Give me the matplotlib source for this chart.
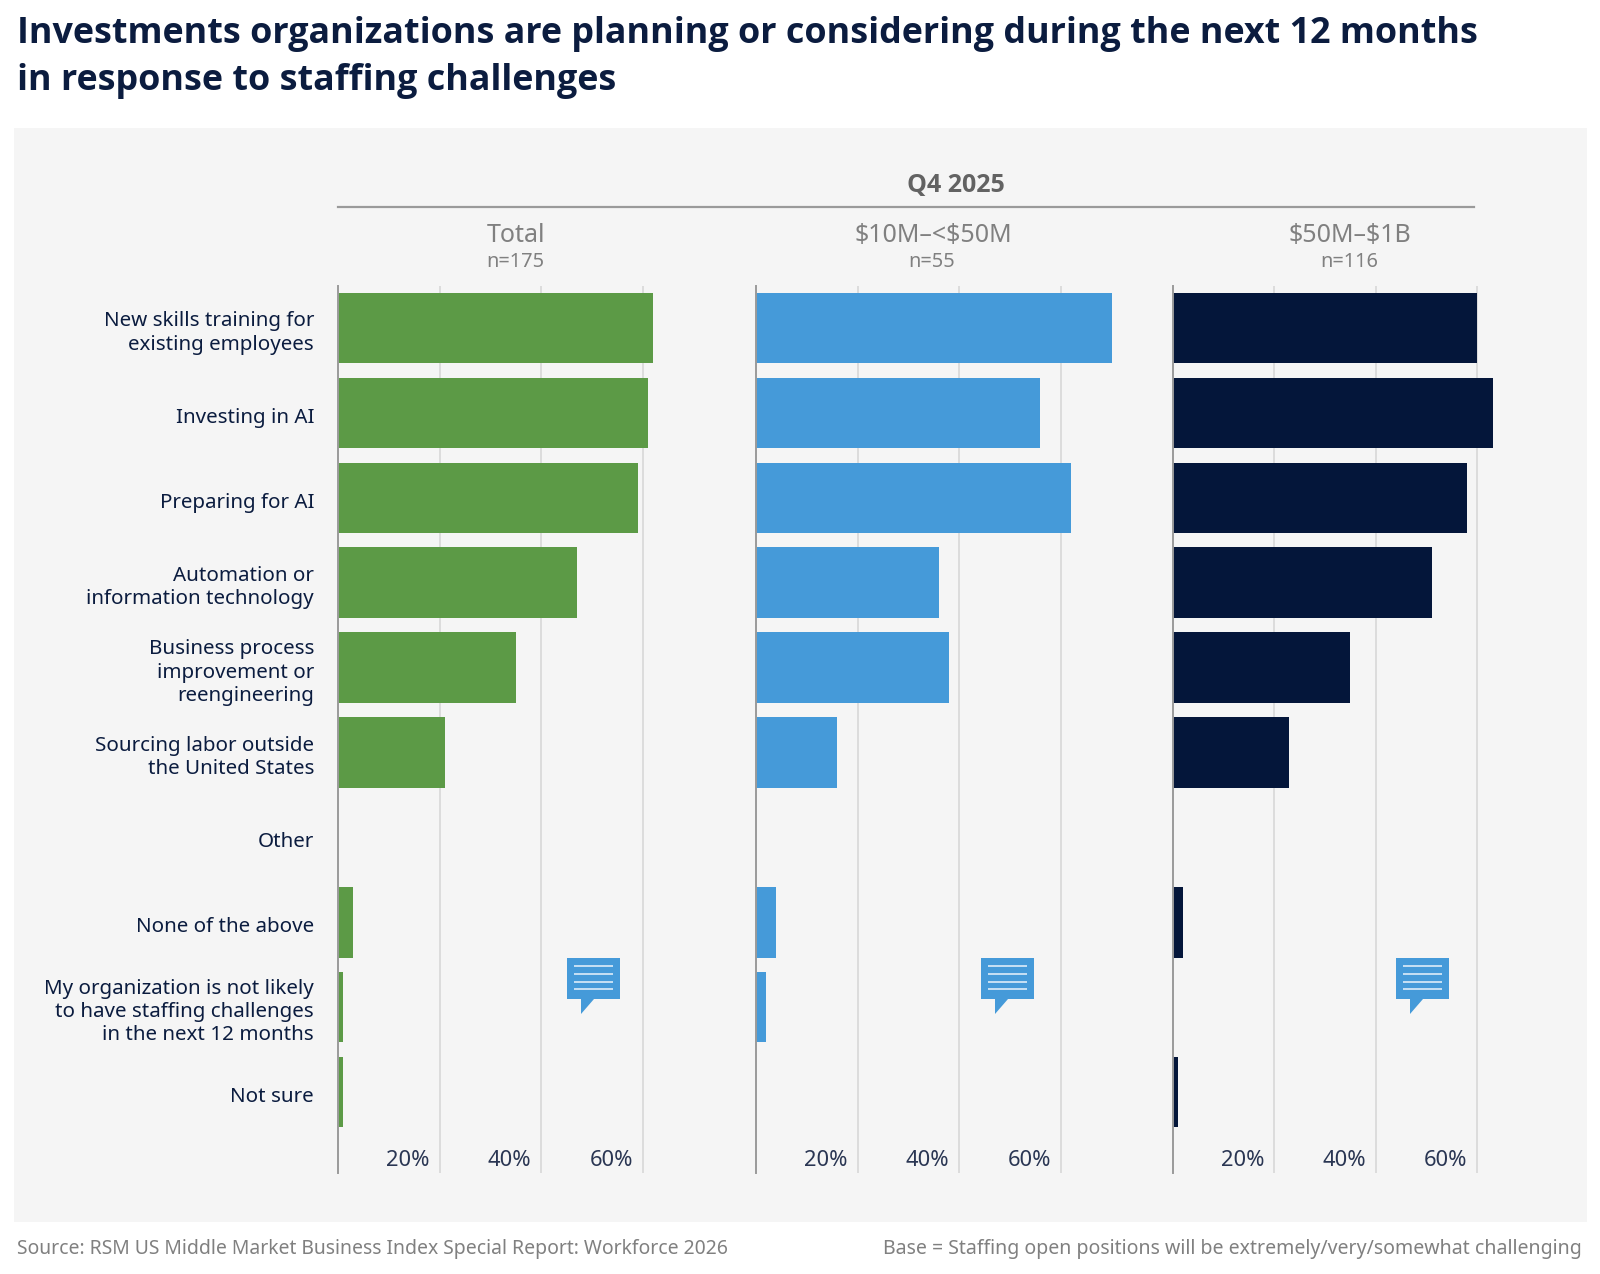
import matplotlib
matplotlib.use("Agg")
import matplotlib.pyplot as plt
from matplotlib.patches import Rectangle, Polygon

W, H = 1600, 1274
categories = ["New skills training for\nexisting employees", "Investing in AI", "Preparing for AI",
              "Automation or\ninformation technology", "Business process\nimprovement or\nreengineering",
              "Sourcing labor outside\nthe United States", "Other", "None of the above",
              "My organization is not likely\nto have staffing challenges\nin the next 12 months", "Not sure"]
total = [62, 61, 59, 47, 35, 21, 0, 3, 1, 1]
mid_low = [70, 56, 62, 36, 38, 16, 0, 4, 2, 0]
mid_high = [60, 63, 58, 51, 35, 23, 0, 2, 0, 1]
series = [total, mid_low, mid_high]
panel_titles = ["Total", r"\$10M–<\$50M", r"\$50M–\$1B"]
panel_ns = ["n=175", "n=55", "n=116"]
colors = ["#5C9A46", "#459AD9", "#04163A"]
ticks = [20, 40, 60]
tick_labels = ["20%", "40%", "60%"]

plt.rcParams["font.family"] = ["Noto Sans", "DejaVu Sans"]
NAVY = "#0B1C3F"
GREY = "#808080"
fig = plt.figure(figsize=(W / 100, H / 100), dpi=100, facecolor="white")

bg = fig.add_axes([0, 0, 1, 1], zorder=0)
bg.set_xlim(0, W); bg.set_ylim(H, 0); bg.axis("off")
bg.add_patch(Rectangle((14, 128), 1573, 1094, fc="#F5F5F5", ec="none"))
bg.plot([338, 1474], [207, 207], color="#9A9A9A", lw=1.6)
bg.text(17, 34, "Investments organizations are planning or considering during the next 12 months",
        fontsize=25.8, family="Open Sans", fontweight="bold", color=NAVY, va="center")
bg.text(17, 81, "in response to staffing challenges", fontsize=25.8, family="Open Sans", fontweight="bold", color=NAVY, va="center")
bg.text(956, 185, "Q4 2025", fontsize=18, family="Open Sans", fontweight="bold", color="#636363", ha="center", va="center")
bg.text(17, 1249, "Source: RSM US Middle Market Business Index Special Report: Workforce 2026",
        fontsize=13.95, color=GREY, va="center")
bg.text(1582, 1249, "Base = Staffing open positions will be extremely/very/somewhat challenging",
        fontsize=14.05, color=GREY, va="center", ha="right")

lefts = [338, 756, 1172.5]
px_per_pct = 5.08
title_x = [516, 933, 1350]
icon_x = [567, 981, 1396]
top, bottom = 286, 1173
x_span = 360

for i, (vals, color) in enumerate(zip(series, colors)):
    ax = fig.add_axes([lefts[i] / W, 1 - bottom / H, x_span / W, (bottom - top) / H], zorder=1)
    ax.patch.set_alpha(0)
    ax.set_xlim(0, x_span / px_per_pct)
    # row pitch 84.9 px; first row centre sits 42 px below the axis top
    ax.set_ylim((bottom - top - 42) / 84.9, -42 / 84.9)
    ax.barh(range(len(vals)), vals, height=0.83, color=color, zorder=2)
    ax.set_xticks(ticks)
    ax.set_xticklabels([])
    ax.grid(axis="x", color="#DCDCDC", lw=1.4, zorder=0)
    ax.set_axisbelow(True)
    ax.tick_params(length=0)
    for s in ("top", "right", "bottom"):
        ax.spines[s].set_visible(False)
    ax.spines["left"].set_color("#9A9A9A")
    ax.spines["left"].set_linewidth(1.4)
    ax.set_yticks([])
    if i == 0:
        for r, lab in enumerate(categories):
            ax.annotate(lab, xy=(0, r), xycoords="data", xytext=(-24, -5), textcoords="offset pixels",
                        fontsize=14.8, color=NAVY, ha="right", va="center", linespacing=1.22, annotation_clip=False)
    for t, lab in zip(ticks, tick_labels):
        bg.text(lefts[i] + t * px_per_pct - 10, 1161, lab, fontsize=15.8, color="#2A3653", ha="right", va="center")
    bg.text(title_x[i], 236, panel_titles[i], fontsize=18, color=GREY, ha="center", va="center")
    bg.text(title_x[i] - 1, 262, panel_ns[i], fontsize=14.4, color=GREY, ha="center", va="center")
    # speech-bubble icon
    ix, iy = icon_x[i], 958
    bubble = [(ix, iy), (ix + 53, iy), (ix + 53, iy + 41), (ix + 27, iy + 41), (ix + 14, iy + 56), (ix + 14, iy + 41), (ix, iy + 41)]
    bg.add_patch(Polygon(bubble, closed=True, fc="#459AD9", ec="none"))
    for dy in (8, 16, 24, 31):
        bg.plot([ix + 7, ix + 46], [iy + dy, iy + dy], color="#EAF3FB", lw=1.1, solid_capstyle="butt")

fig.savefig("out.png", dpi=100, facecolor="white")
